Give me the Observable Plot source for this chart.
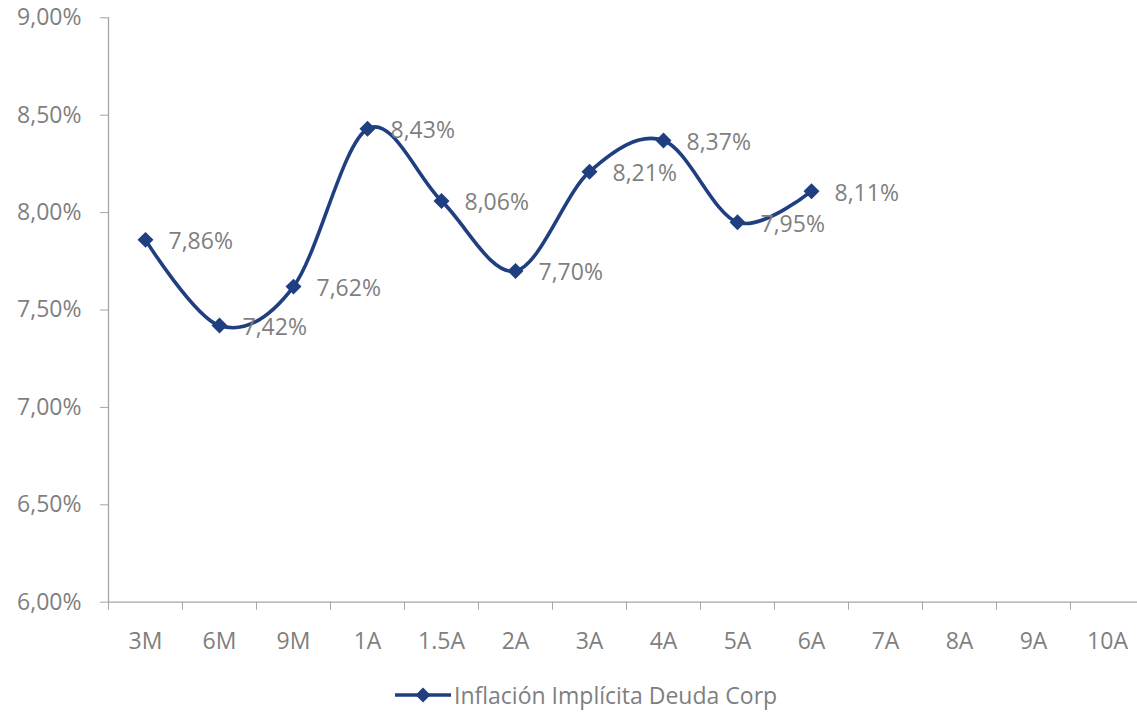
<!DOCTYPE html>
<html>
<head>
<meta charset="utf-8">
<script src="https://cdn.jsdelivr.net/npm/d3@7"></script>
<script src="https://cdn.jsdelivr.net/npm/@observablehq/plot@0.6"></script>
<style>
  html, body { margin: 0; padding: 0; background: #fff; overflow: hidden; }
  #wrap { position: relative; width: 1137px; height: 712px; font-family: "Open Sans", sans-serif; }
  #legend { position: absolute; left: 395px; top: 680px; height: 30px; display: flex; align-items: center; color: #7f7f7f; font-size: 23px; white-space: nowrap; }
  #legend svg { margin-right: 3px; }
</style>
</head>
<body>
<div id="wrap">
  <div id="chart"></div>
  <div id="legend"></div>
</div>
<script>
// Plazos (curve tenors) and implied inflation values, in percent
const tenors = ["3M", "6M", "9M", "1A", "1.5A", "2A", "3A", "4A", "5A", "6A", "7A", "8A", "9A", "10A"];
const values = [7.86, 7.42, 7.62, 8.43, 8.06, 7.70, 8.21, 8.37, 7.95, 8.11];
const yTicks = [6.0, 6.5, 7.0, 7.5, 8.0, 8.5, 9.0];
const seriesName = "Inflación Implícita Deuda Corp";

const navy = "#1f3f80";
const grey = "#7f7f7f";
const axisGrey = "#a6a6a6";
const fs = 23;

// each tenor occupies one unit slot on a linear x scale; points sit at slot centres
const data = values.map((v, i) => ({tenor: tenors[i], pos: i + 0.5, value: v}));
const slotEdges = d3.range(0, tenors.length + 1);
const slotCentres = tenors.map((_, i) => i + 0.5);

const fmtPct = v => v.toFixed(2).replace(".", ",") + "%";

const chart = Plot.plot({
  width: 1137,
  height: 672,
  marginTop: 17.3,
  marginBottom: 70.3,
  marginLeft: 108,
  marginRight: 0,
  style: {fontFamily: "Open Sans, sans-serif", fontSize: fs + "px", color: grey, background: "#fff", overflow: "visible"},
  x: {type: "linear", domain: [0, tenors.length], range: [108, 1144]},
  y: {domain: [6, 9]},
  marks: [
    // axis lines
    Plot.ruleX([0], {y1: 6, y2: 9, stroke: axisGrey, strokeWidth: 1.3}),
    Plot.ruleY([6], {x1: 0, x2: tenors.length, stroke: axisGrey, strokeWidth: 1.3}),
    // y axis ticks and labels
    Plot.axisY({ticks: yTicks, tickSize: 8, tickPadding: 19, tickFormat: fmtPct, stroke: axisGrey, fill: grey, fontSize: fs, label: null}),
    // slot separators below the x axis
    Plot.axisX({ticks: slotEdges, tickSize: 8, tickFormat: () => "", stroke: axisGrey, label: null}),
    // tenor labels centred in each slot
    Plot.axisX({ticks: slotCentres, tickSize: 0, tickPadding: 30, tickFormat: p => tenors[Math.floor(p)], fill: grey, fontSize: fs, label: null}),
    // smoothed series line
    Plot.line(data, {x: "pos", y: "value", curve: "cardinal", stroke: navy, strokeWidth: 3.6}),
    Plot.dot(data, {x: "pos", y: "value", symbol: "diamond2", r: 7.2, fill: navy, stroke: "none"}),
    // value labels to the right of each point
    Plot.text(data, {x: "pos", y: "value", text: d => fmtPct(d.value), dx: 23, dy: 2, textAnchor: "start", fill: grey, fontSize: fs})
  ]
});
document.getElementById("chart").appendChild(chart);

// legend: line + diamond swatch with series name
const leg = document.getElementById("legend");
leg.innerHTML = `<svg width="56" height="20" viewBox="0 0 56 20">
  <line x1="0" y1="10" x2="56" y2="10" stroke="${navy}" stroke-width="3.6"/>
  <path d="M28,2.5 L35.5,10 L28,17.5 L20.5,10 Z" fill="${navy}"/>
</svg><span>${seriesName}</span>`;
</script>
</body>
</html>
